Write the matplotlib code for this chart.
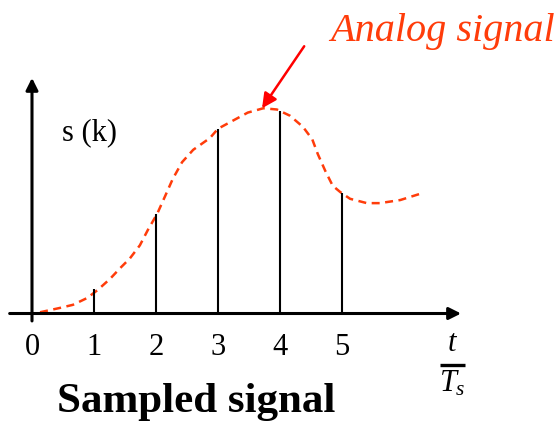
import matplotlib
matplotlib.use("Agg")
import matplotlib.pyplot as plt

# sample instants (t / Ts) and sampled amplitudes
k = [1, 2, 3, 4, 5]
s_k = [0.40, 1.60, 2.98, 3.27, 1.94]
tick_labels = ["0", "1", "2", "3", "4", "5"]

# underlying analog signal, traced points
t_analog = [0.13, 0.45, 0.66, 0.89, 1.06, 1.26, 1.42, 1.58, 1.74, 1.87, 2.02, 2.15,
            2.27, 2.42, 2.60, 2.87, 3.00, 3.24, 3.48, 3.73, 3.95, 4.16, 4.37, 4.52,
            4.61, 4.73, 4.85, 4.97, 5.13, 5.40, 5.61, 5.94, 6.29]
s_analog = [0.02, 0.09, 0.14, 0.25, 0.38, 0.56, 0.73, 0.89, 1.10, 1.35, 1.61, 1.90,
            2.17, 2.44, 2.64, 2.83, 2.98, 3.11, 3.24, 3.31, 3.29, 3.19, 3.01, 2.81,
            2.57, 2.30, 2.06, 1.96, 1.85, 1.78, 1.78, 1.83, 1.94]

serif = "Liberation Serif"
red = "#ff3c0a"

plt.rcParams["mathtext.fontset"] = "custom"
plt.rcParams["mathtext.rm"] = serif
plt.rcParams["mathtext.it"] = serif + ":italic"

fig = plt.figure(figsize=(5.55, 4.24), dpi=100)
ax = fig.add_axes([0, 0, 1, 1])
ax.set_xlim(-0.516, 8.435)
ax.set_ylim(-1.782, 5.056)
ax.axis("off")

# axes with arrow heads
ax.annotate("", xy=(6.92, 0), xytext=(-0.36, 0),
            arrowprops=dict(arrowstyle="-|>", lw=2.2, color="black",
                            mutation_scale=18, shrinkA=0, shrinkB=0))
ax.annotate("", xy=(0, 3.80), xytext=(0, -0.12),
            arrowprops=dict(arrowstyle="-|>", lw=2.2, color="black",
                            mutation_scale=18, shrinkA=0, shrinkB=0))

# dashed analog signal
ax.plot(t_analog, s_analog, color=red, lw=1.8, linestyle=(0, (3.2, 2.2)))

# samples
ax.vlines(k, 0, s_k, color="black", lw=1.5)

# tick labels
for i, lab in enumerate(tick_labels):
    ax.text(i, -0.67, lab, ha="center", va="baseline", family=serif, fontsize=22)

# t / Ts label
ax.text(6.78, -0.60, "$t$", ha="center", va="baseline", fontsize=22)
ax.plot([6.58, 6.98], [-0.83, -0.83], color="black", lw=2.4, solid_capstyle="butt")
ax.text(6.78, -1.26, "$T_s$", ha="center", va="baseline", fontsize=22)

ax.text(0.48, 2.80, "s (k)", ha="left", va="baseline", family=serif, fontsize=22)

ax.text(0.40, -1.59, "Sampled signal", ha="left", va="baseline", family=serif,
        fontsize=31, fontweight="bold")

ax.text(4.81, 4.395, "Analog signal", ha="left", va="baseline", family=serif,
        fontsize=29, style="italic", color=red)
ax.annotate("", xy=(3.71, 3.31), xytext=(4.39, 4.31),
            arrowprops=dict(arrowstyle="-|>", lw=1.8, color="#ff0000",
                            mutation_scale=22, shrinkA=0, shrinkB=0))

fig.savefig("out.png", dpi=100)
